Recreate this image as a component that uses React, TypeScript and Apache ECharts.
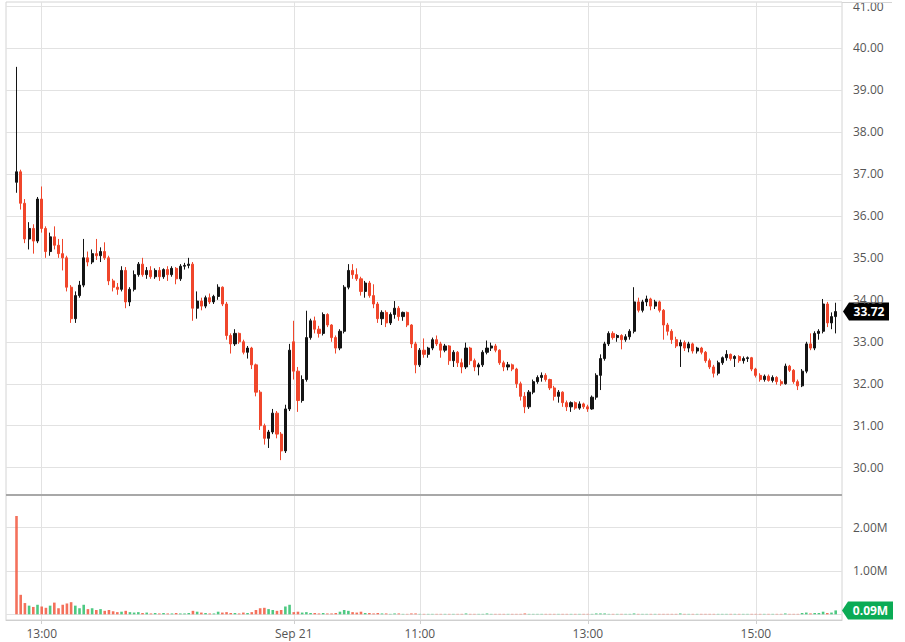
import React, { useEffect, useRef } from 'react';
import * as echarts from 'echarts';

// Sessions shown on the category axis (3-minute bars)
const SESSIONS = [
  { day: 'Sep 20', start: '12:36', end: '15:57' },
  { day: 'Sep 21', start: '09:30', end: '16:00' },
];
const STEP_MIN = 3;
const FIRST_BAR = 'Sep 20 12:42';
const X_LABELS = ['Sep 20 13:00', 'Sep 21 09:30', 'Sep 21 11:00', 'Sep 21 13:00', 'Sep 21 15:00'];

const PRICE_TICKS = { min: 30, max: 41, interval: 1 };
const VOLUME_TICKS = { min: 0, max: 2.755, interval: 1 };

const opens = [
  36.80, 37.05, 36.30, 35.45, 35.70, 35.40, 36.40, 35.70, 35.15, 35.50,
  35.30, 35.10, 35.00, 34.30, 33.55, 34.10, 34.35, 35.00, 34.90, 35.10,
  35.05, 35.15, 35.00, 34.45, 34.30, 34.25, 34.70, 33.95, 34.25, 34.60,
  34.85, 34.60, 34.70, 34.55, 34.70, 34.55, 34.72, 34.60, 34.75, 34.50,
  34.80, 34.82, 34.85, 33.80, 33.97, 33.85, 34.05, 33.95, 34.08, 34.30,
  33.90, 33.15, 32.95, 33.20, 33.00, 32.75, 32.85, 32.45, 31.80, 31.00,
  30.70, 30.85, 31.30, 30.80, 30.40, 31.40,
  33.00, 32.30, 31.60, 32.10, 33.10, 33.50, 33.30, 33.20, 33.65, 33.40,
  33.10, 32.85, 33.25, 34.30, 34.70, 34.60, 34.50, 34.20, 34.40, 34.10,
  33.90, 33.55, 33.70, 33.45, 33.65, 33.80, 33.60, 33.70, 33.40, 32.95,
  32.45, 32.80, 32.70, 32.85, 33.05, 32.95, 32.80, 32.90, 32.55, 32.75,
  32.50, 32.40, 32.85, 32.55, 32.40, 32.45, 32.75, 32.85, 32.90, 32.80,
  32.50, 32.40, 32.45, 32.35, 32.00, 31.70, 31.45, 31.80, 32.05, 32.15,
  32.20, 32.10, 31.90, 31.70, 31.80, 31.55, 31.45, 31.55, 31.42, 31.52,
  31.45, 31.40, 31.68, 32.20, 32.60, 32.95, 33.20, 33.10, 33.15, 33.05,
  33.12, 33.25, 33.95, 33.75, 33.95, 34.02, 33.85, 33.95, 33.75, 33.40,
  33.25, 33.05, 32.90, 32.98, 32.85, 32.95, 32.78, 32.85, 32.75, 32.55,
  32.40, 32.25, 32.50, 32.62, 32.70, 32.60, 32.65, 32.55, 32.60, 32.62,
  32.35, 32.20, 32.10, 32.18, 32.08, 32.15, 32.05, 32.00, 32.42, 32.32,
  32.05, 31.95, 32.30, 32.95, 32.85, 33.20, 33.25, 33.90, 33.45, 33.60,
];
const highs = [
  39.55, 37.10, 36.40, 35.85, 35.80, 36.45, 36.70, 35.75, 35.60, 35.75,
  35.45, 35.45, 35.05, 34.35, 34.20, 34.45, 35.45, 35.15, 35.20, 35.45,
  35.25, 35.37, 35.05, 34.50, 34.40, 34.80, 34.78, 34.30, 34.70, 34.90,
  35.00, 34.78, 34.80, 34.75, 34.78, 34.75, 34.80, 34.80, 34.78, 34.85,
  34.88, 35.00, 34.90, 34.20, 34.05, 34.10, 34.15, 34.12, 34.37, 34.32,
  33.95, 33.20, 33.30, 33.22, 33.05, 32.90, 32.88, 32.48, 31.85, 31.05,
  30.90, 31.40, 31.35, 30.85, 31.50, 32.95,
  33.50, 32.40, 32.20, 33.74, 33.55, 33.60, 33.38, 33.70, 33.68, 33.42,
  33.15, 33.30, 34.35, 34.85, 34.85, 34.75, 34.55, 34.45, 34.45, 34.37,
  33.95, 33.75, 33.75, 33.70, 33.97, 33.85, 33.72, 33.72, 33.42, 33.00,
  32.85, 33.08, 32.88, 33.10, 33.15, 33.00, 32.95, 32.92, 32.80, 32.78,
  32.60, 32.98, 32.88, 32.60, 32.50, 32.80, 33.03, 32.98, 32.95, 32.82,
  32.55, 32.52, 32.48, 32.38, 32.05, 31.80, 31.85, 32.10, 32.20, 32.27,
  32.25, 32.12, 31.95, 31.85, 31.82, 31.60, 31.58, 31.58, 31.58, 31.55,
  31.50, 31.72, 32.25, 32.70, 33.00, 33.25, 33.25, 33.18, 33.18, 33.18,
  33.30, 34.30, 34.05, 34.00, 34.10, 34.05, 34.00, 33.98, 33.78, 33.45,
  33.30, 33.12, 33.05, 33.03, 33.00, 32.98, 32.88, 32.88, 32.78, 32.60,
  32.45, 32.55, 32.65, 32.80, 32.72, 32.68, 32.68, 32.65, 32.65, 32.64,
  32.38, 32.25, 32.22, 32.22, 32.20, 32.18, 32.10, 32.48, 32.45, 32.35,
  32.10, 32.35, 33.00, 33.20, 33.25, 33.30, 34.02, 33.95, 33.70, 33.93,
];
const lows = [
  36.55, 36.15, 35.35, 35.20, 35.10, 35.35, 35.60, 35.00, 35.05, 35.20,
  35.00, 34.70, 34.20, 33.45, 33.45, 34.05, 34.30, 34.80, 34.85, 34.95,
  34.90, 34.95, 34.35, 34.20, 34.12, 34.20, 33.80, 33.85, 34.20, 34.55,
  34.55, 34.50, 34.50, 34.50, 34.45, 34.50, 34.45, 34.55, 34.37, 34.45,
  34.72, 34.75, 33.50, 33.55, 33.75, 33.80, 33.90, 33.90, 34.00, 33.85,
  33.05, 32.72, 32.90, 32.95, 32.70, 32.60, 32.35, 31.70, 30.90, 30.55,
  30.47, 30.80, 30.70, 30.18, 30.35, 31.35,
  32.10, 31.33, 31.55, 32.05, 33.05, 33.20, 33.10, 33.15, 33.35, 33.00,
  32.72, 32.80, 33.20, 34.25, 34.50, 34.45, 34.10, 34.05, 34.05, 33.80,
  33.45, 33.40, 33.35, 33.40, 33.55, 33.50, 33.50, 33.35, 32.85, 32.25,
  32.40, 32.62, 32.62, 32.80, 32.90, 32.62, 32.75, 32.45, 32.40, 32.40,
  32.25, 32.35, 32.45, 32.30, 32.20, 32.40, 32.70, 32.78, 32.75, 32.45,
  32.30, 32.32, 32.30, 31.90, 31.60, 31.30, 31.40, 31.75, 32.00, 32.05,
  32.05, 31.85, 31.60, 31.55, 31.45, 31.35, 31.33, 31.38, 31.38, 31.40,
  31.33, 31.38, 31.62, 31.85, 32.55, 32.90, 33.05, 33.00, 32.82, 33.00,
  33.05, 33.20, 33.70, 33.70, 33.85, 33.75, 33.78, 33.70, 33.05, 33.15,
  32.95, 32.85, 32.40, 32.78, 32.75, 32.72, 32.72, 32.70, 32.50, 32.35,
  32.15, 32.20, 32.45, 32.55, 32.55, 32.40, 32.50, 32.48, 32.52, 32.30,
  32.15, 32.05, 32.05, 32.05, 32.03, 31.98, 31.95, 31.98, 32.28, 32.00,
  31.85, 31.92, 32.25, 32.80, 32.80, 33.05, 33.20, 33.35, 33.30, 33.20,
];
const closes = [
  37.05, 36.30, 35.45, 35.70, 35.40, 36.40, 35.70, 35.15, 35.50, 35.30,
  35.10, 35.00, 34.30, 33.55, 34.10, 34.35, 35.00, 34.90, 35.10, 35.05,
  35.15, 35.00, 34.45, 34.30, 34.25, 34.70, 33.95, 34.25, 34.60, 34.85,
  34.60, 34.70, 34.55, 34.70, 34.55, 34.72, 34.60, 34.75, 34.50, 34.80,
  34.82, 34.85, 33.80, 33.97, 33.85, 34.05, 33.95, 34.08, 34.30, 33.90,
  33.15, 32.95, 33.20, 33.00, 32.75, 32.85, 32.45, 31.80, 31.00, 30.70,
  30.85, 31.30, 30.80, 30.40, 31.40, 32.80,
  32.30, 31.60, 32.10, 33.10, 33.50, 33.30, 33.20, 33.65, 33.40, 33.10,
  32.85, 33.25, 34.30, 34.70, 34.60, 34.50, 34.20, 34.40, 34.10, 33.90,
  33.55, 33.70, 33.45, 33.65, 33.80, 33.60, 33.70, 33.40, 32.95, 32.45,
  32.80, 32.70, 32.85, 33.05, 32.95, 32.80, 32.90, 32.55, 32.75, 32.50,
  32.40, 32.85, 32.55, 32.40, 32.45, 32.75, 32.85, 32.90, 32.80, 32.50,
  32.40, 32.45, 32.35, 32.00, 31.70, 31.45, 31.80, 32.05, 32.15, 32.20,
  32.10, 31.90, 31.70, 31.80, 31.55, 31.45, 31.55, 31.42, 31.52, 31.45,
  31.40, 31.68, 32.20, 32.60, 32.95, 33.20, 33.10, 33.15, 33.05, 33.12,
  33.25, 33.95, 33.75, 33.95, 34.02, 33.85, 33.95, 33.75, 33.40, 33.25,
  33.05, 32.90, 32.98, 32.85, 32.95, 32.78, 32.85, 32.75, 32.55, 32.40,
  32.25, 32.50, 32.62, 32.70, 32.60, 32.65, 32.55, 32.60, 32.62, 32.35,
  32.20, 32.10, 32.18, 32.08, 32.15, 32.05, 32.00, 32.42, 32.32, 32.05,
  31.95, 32.30, 32.95, 32.85, 33.20, 33.25, 33.90, 33.45, 33.60, 33.72,
];
// volume in millions of shares
const volumes = [
  2.27, 0.45, 0.26, 0.20, 0.17, 0.22, 0.18, 0.15, 0.20, 0.27,
  0.14, 0.22, 0.25, 0.28, 0.20, 0.14, 0.22, 0.12, 0.14, 0.10,
  0.12, 0.08, 0.10, 0.07, 0.05, 0.06, 0.08, 0.05, 0.04, 0.05,
  0.03, 0.04, 0.02, 0.03, 0.02, 0.03, 0.02, 0.02, 0.03, 0.02,
  0.02, 0.03, 0.08, 0.06, 0.04, 0.03, 0.02, 0.02, 0.06, 0.04,
  0.05, 0.03, 0.03, 0.02, 0.04, 0.03, 0.05, 0.10, 0.14, 0.15,
  0.12, 0.10, 0.08, 0.10, 0.18, 0.22,
  0.05, 0.06, 0.04, 0.05, 0.03, 0.03, 0.02, 0.03, 0.02, 0.02,
  0.03, 0.06, 0.10, 0.08, 0.05, 0.04, 0.06, 0.03, 0.03, 0.02,
  0.03, 0.02, 0.02, 0.01, 0.02, 0.02, 0.01, 0.01, 0.02, 0.02,
  0.01, 0.01, 0.01, 0.01, 0.01, 0.01, 0.01, 0.01, 0.01, 0.01,
  0.01, 0.02, 0.01, 0.01, 0.01, 0.01, 0.02, 0.01, 0.01, 0.01,
  0.01, 0.01, 0.01, 0.01, 0.01, 0.02, 0.01, 0.01, 0.01, 0.01,
  0.01, 0.01, 0.01, 0.01, 0.01, 0.01, 0.01, 0.01, 0.01, 0.01,
  0.01, 0.01, 0.02, 0.02, 0.02, 0.01, 0.01, 0.01, 0.01, 0.01,
  0.01, 0.02, 0.01, 0.01, 0.01, 0.01, 0.01, 0.01, 0.01, 0.01,
  0.01, 0.01, 0.02, 0.01, 0.01, 0.01, 0.01, 0.01, 0.01, 0.01,
  0.01, 0.01, 0.01, 0.01, 0.01, 0.01, 0.01, 0.01, 0.01, 0.01,
  0.01, 0.01, 0.01, 0.01, 0.01, 0.01, 0.01, 0.02, 0.01, 0.01,
  0.01, 0.03, 0.04, 0.02, 0.03, 0.03, 0.06, 0.03, 0.04, 0.09,
];

const UP = '#141414';
const DOWN = '#f0462b';
const VOL_UP = '#2fbf6c';
const VOL_DOWN = '#f2583f';
const BADGE_PRICE = '#000000';
const BADGE_VOL = '#0bab55';
const FONT = 'Open Sans';

function buildCategories(): string[] {
  const out: string[] = [];
  const pad = (n: number) => String(n).padStart(2, '0');
  for (const s of SESSIONS) {
    const [sh, sm] = s.start.split(':').map(Number);
    const [eh, em] = s.end.split(':').map(Number);
    for (let t = sh * 60 + sm; t <= eh * 60 + em; t += STEP_MIN) {
      out.push(`${s.day} ${pad(Math.floor(t / 60))}:${pad(t % 60)}`);
    }
  }
  return out;
}

export default function App() {
  const ref = useRef<HTMLDivElement>(null);

  useEffect(() => {
    document.body.style.margin = '0';
    if (!ref.current) return;
    const chart = echarts.init(ref.current, undefined, { renderer: 'svg' });

    const categories = buildCategories();
    const offset = categories.indexOf(FIRST_BAR);
    const candleData = categories.map((_, i) => {
      const k = i - offset;
      if (k < 0 || k >= closes.length) return '-';
      return [opens[k], closes[k], lows[k], highs[k]];
    });
    const volumeData = categories.map((_, i) => {
      const k = i - offset;
      if (k < 0 || k >= volumes.length) return '-';
      const up = k > 0 ? closes[k] >= closes[k - 1] : false;
      return { value: volumes[k], itemStyle: { color: up ? VOL_UP : VOL_DOWN, opacity: 0.85 } };
    });

    const isLabel = (_: number, v: string) => X_LABELS.includes(v);
    const hiddenX = (gridIndex: number) => ({
      type: 'category' as const,
      gridIndex,
      data: categories,
      show: false,
    });

    const LEFT = 6;
    const RIGHT = 63;

    chart.setOption({
      animation: false,
      textStyle: { fontFamily: FONT },
      grid: [
        { left: LEFT, right: RIGHT, top: 2, bottom: 22, show: true, borderColor: '#d4d4d4', borderWidth: 1 },
        { left: LEFT, right: RIGHT, top: 4.6, height: 463.1 },
        { left: LEFT, right: RIGHT, top: 495, height: 119.3 },
      ],
      xAxis: [
        {
          type: 'category',
          gridIndex: 0,
          data: categories,
          axisLine: { show: true, lineStyle: { color: '#cfcfcf' } },
          axisTick: { show: true, interval: isLabel, alignWithLabel: true, length: 4, lineStyle: { color: '#cfcfcf' } },
          axisLabel: {
            interval: isLabel,
            color: '#555',
            fontSize: 12,
            fontFamily: FONT,
            margin: 7,
            formatter: (v: string) => (v.endsWith('09:30') ? v.slice(0, 6) : v.slice(7)),
          },
          splitLine: { show: true, interval: isLabel, alignWithLabel: true, lineStyle: { color: '#e2e2e2', width: 1 } },
        },
        hiddenX(1),
        hiddenX(2),
      ],
      yAxis: [
        { type: 'value', gridIndex: 0, show: false },
        {
          type: 'value',
          gridIndex: 1,
          position: 'right',
          min: PRICE_TICKS.min,
          max: PRICE_TICKS.max,
          interval: PRICE_TICKS.interval,
          axisLine: { show: false },
          axisTick: { show: false },
          axisLabel: { color: '#555', fontSize: 12, fontFamily: FONT, margin: 11, formatter: (v: number) => v.toFixed(2) },
          splitLine: { lineStyle: { color: '#e2e2e2' } },
        },
        {
          type: 'value',
          gridIndex: 2,
          position: 'right',
          min: VOLUME_TICKS.min,
          max: VOLUME_TICKS.max,
          interval: VOLUME_TICKS.interval,
          axisLine: { show: false },
          axisTick: { show: false },
          axisLabel: {
            color: '#555',
            fontSize: 12,
            fontFamily: FONT,
            margin: 11,
            showMinLabel: false,
            showMaxLabel: false,
            formatter: (v: number) => v.toFixed(2) + 'M',
          },
          splitLine: { lineStyle: { color: '#e2e2e2' } },
        },
      ],
      series: [
        {
          type: 'candlestick',
          xAxisIndex: 1,
          yAxisIndex: 1,
          data: candleData,
          barWidth: 2.6,
          itemStyle: { color: UP, color0: DOWN, borderColor: UP, borderColor0: DOWN, borderWidth: 1 },
        },
        {
          type: 'bar',
          xAxisIndex: 2,
          yAxisIndex: 2,
          data: volumeData,
          barWidth: 2.6,
        },
      ],
    });

    const lastClose = closes[closes.length - 1];
    const lastVol = volumes[volumes.length - 1];
    const yP = chart.convertToPixel({ yAxisIndex: 1 }, lastClose) as number;
    const yV = chart.convertToPixel({ yAxisIndex: 2 }, lastVol) as number;
    const xEdge = chart.convertToPixel({ xAxisIndex: 0 }, categories[categories.length - 1]) as number;
    const plotRight = 905 - RIGHT;

    const badge = (y: number, x0: number, x1: number, color: string, text: string) => ({
      type: 'group',
      z: 100,
      children: [
        {
          type: 'polygon',
          shape: { points: [[x0, y], [x0 + 6, y - 9], [x1, y - 9], [x1, y + 9], [x0 + 6, y + 9]] },
          style: { fill: color },
        },
        {
          type: 'text',
          x: (x0 + 6 + x1) / 2,
          y,
          style: {
            text,
            fill: '#fff',
            font: `bold 12px "${FONT}"`,
            align: 'center',
            verticalAlign: 'middle',
          },
        },
      ],
    });

    void xEdge;
    chart.setOption({
      graphic: [
        { type: 'line', z: 50, shape: { x1: LEFT, y1: 495, x2: plotRight, y2: 495 }, style: { stroke: '#a8a8a8', lineWidth: 2 } },
        { type: 'line', z: 50, shape: { x1: plotRight, y1: 2.5, x2: 892, y2: 2.5 }, style: { stroke: '#d4d4d4', lineWidth: 1 } },
        badge(yP, plotRight + 1, 889, BADGE_PRICE, lastClose.toFixed(2)),
        badge(yV, plotRight, 893, BADGE_VOL, lastVol.toFixed(2) + 'M'),
      ],
    });

    return () => chart.dispose();
  }, []);

  return <div ref={ref} style={{ width: 905, height: 642 }} />;
}
